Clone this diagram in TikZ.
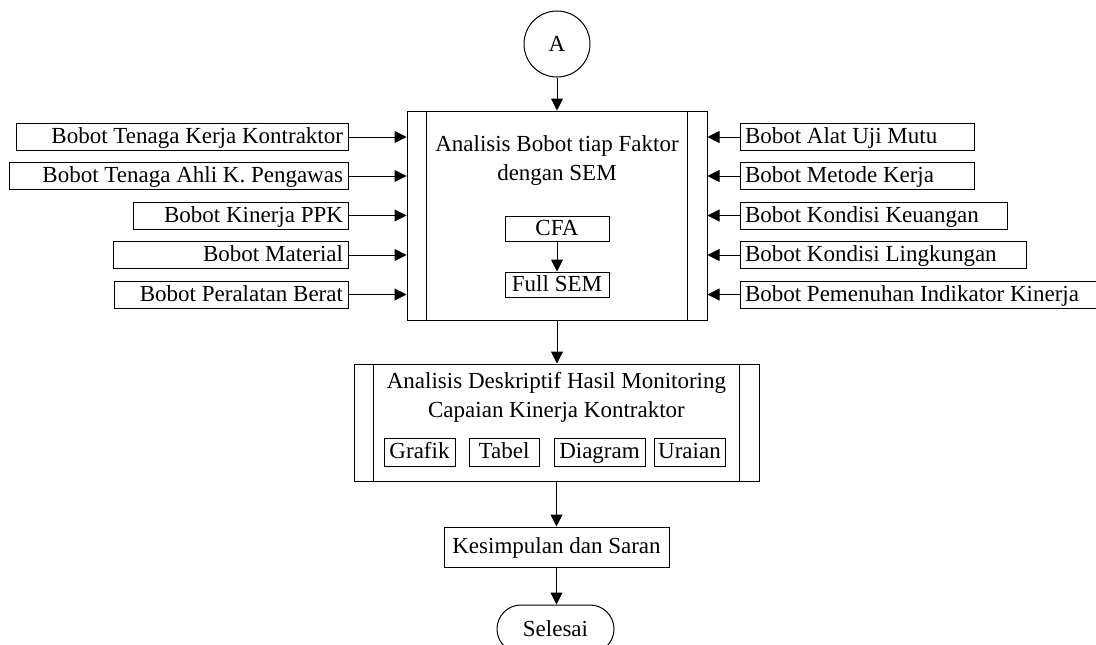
\documentclass[tikz,border=0pt]{standalone}
\usepackage{fontspec}
\setmainfont{Liberation Serif}
\usetikzlibrary{arrows.meta,shapes.misc}
\begin{document}
\begin{tikzpicture}[x=1pt,y=-1pt,
  every node/.style={font=\fontsize{23}{29}\selectfont},
  box/.style={draw, line width=1pt, inner sep=0pt, minimum height=27pt, text height=17pt, text depth=3.5pt},
  lbox/.style={box, align=flush right},
  rbox/.style={box, align=flush left},
  arr/.style={line width=1pt, -{Triangle[length=12pt,width=12pt]}},
  frame/.style={line width=1pt}]
\useasboundingbox (0,0) rectangle (1096,645);

% start connector
\node[draw, circle, line width=1pt, minimum size=66pt, inner sep=0pt] (A) at (557,44) {A};

% SEM analysis block
\node[draw, line width=1pt, inner sep=0pt, minimum width=300pt, minimum height=209pt] (main) at (557,215.5) {};
\draw[frame] ([xshift=20pt]main.north west) -- ([xshift=20pt]main.south west);
\draw[frame] ([xshift=-20pt]main.north east) -- ([xshift=-20pt]main.south east);
\node[align=center, inner sep=0pt] (mt) at (557,161) {Analisis Bobot tiap Faktor\\dengan SEM};
\node[box, minimum width=104pt, minimum height=25pt] (cfa) at (557,228.5) {CFA};
\node[box, minimum width=104pt, minimum height=25pt] (full) at (557,284.5) {Full SEM};
\draw[arr] (cfa.south) -- (full.north);

% left inputs
\node[lbox, minimum width=332pt, text width=322pt] (l1) at (182,137) {Bobot Tenaga Kerja Kontraktor};
\node[lbox, minimum width=339pt, text width=329pt] (l2) at (178.5,176) {Bobot Tenaga Ahli K. Pengawas};
\node[lbox, minimum width=215pt, text width=205pt] (l3) at (240.5,215.5) {Bobot Kinerja PPK};
\node[lbox, minimum width=235pt, text width=225pt] (l4) at (230.5,255) {Bobot Material};
\node[lbox, minimum width=234pt, text width=224pt] (l5) at (231,294.5) {Bobot Peralatan Berat};
\foreach \n in {l1,l2,l3,l4,l5}
  \draw[arr] (\n.east) -- (\n.east -| main.west);

% right inputs
\node[rbox, minimum width=234pt, text width=224pt] (r1) at (857,137) {Bobot Alat Uji Mutu};
\node[rbox, minimum width=234pt, text width=224pt] (r2) at (857,176) {Bobot Metode Kerja};
\node[rbox, minimum width=267pt, text width=257pt] (r3) at (873.5,215.5) {Bobot Kondisi Keuangan};
\node[rbox, minimum width=286pt, text width=276pt] (r4) at (883,255) {Bobot Kondisi Lingkungan};
\node[rbox, minimum width=360pt, text width=350pt] (r5) at (920,294.5) {Bobot Pemenuhan Indikator Kinerja};
\foreach \n in {r1,r2,r3,r4,r5}
  \draw[arr] (\n.west) -- (\n.west -| main.east);

% descriptive analysis block
\node[draw, line width=1pt, inner sep=0pt, minimum width=405pt, minimum height=117pt] (desc) at (556.5,422.5) {};
\draw[frame] ([xshift=20pt]desc.north west) -- ([xshift=20pt]desc.south west);
\draw[frame] ([xshift=-20pt]desc.north east) -- ([xshift=-20pt]desc.south east);
\node[align=center, inner sep=0pt] (dt) at (556.5,397.5) {Analisis Deskriptif Hasil Monitoring\\Capaian Kinerja Kontraktor};
\node[box, minimum width=71pt, minimum height=28pt] (g1) at (419.5,452) {Grafik};
\node[box, minimum width=70pt, minimum height=28pt] (g2) at (504,452) {Tabel};
\node[box, minimum width=91pt, minimum height=28pt] (g3) at (599.5,452) {Diagram};
\node[box, minimum width=71pt, minimum height=28pt] (g4) at (689.5,452) {Uraian};

% conclusion and end
\node[box, minimum width=225pt, minimum height=40pt] (kes) at (556.5,547) {Kesimpulan dan Saran};
\node[draw, rounded rectangle, line width=1pt, inner sep=0pt, minimum width=117pt, minimum height=48pt] (end) at (555.5,629) {Selesai};

% main flow
\draw[arr] (A.south) -- (A.south |- main.north);
\draw[arr] (main.south) -- (main.south |- desc.north);
\draw[arr] (desc.south) -- (desc.south |- kes.north);
\draw[arr] (kes.south) -- (kes.south |- end.north);
\end{tikzpicture}
\end{document}
